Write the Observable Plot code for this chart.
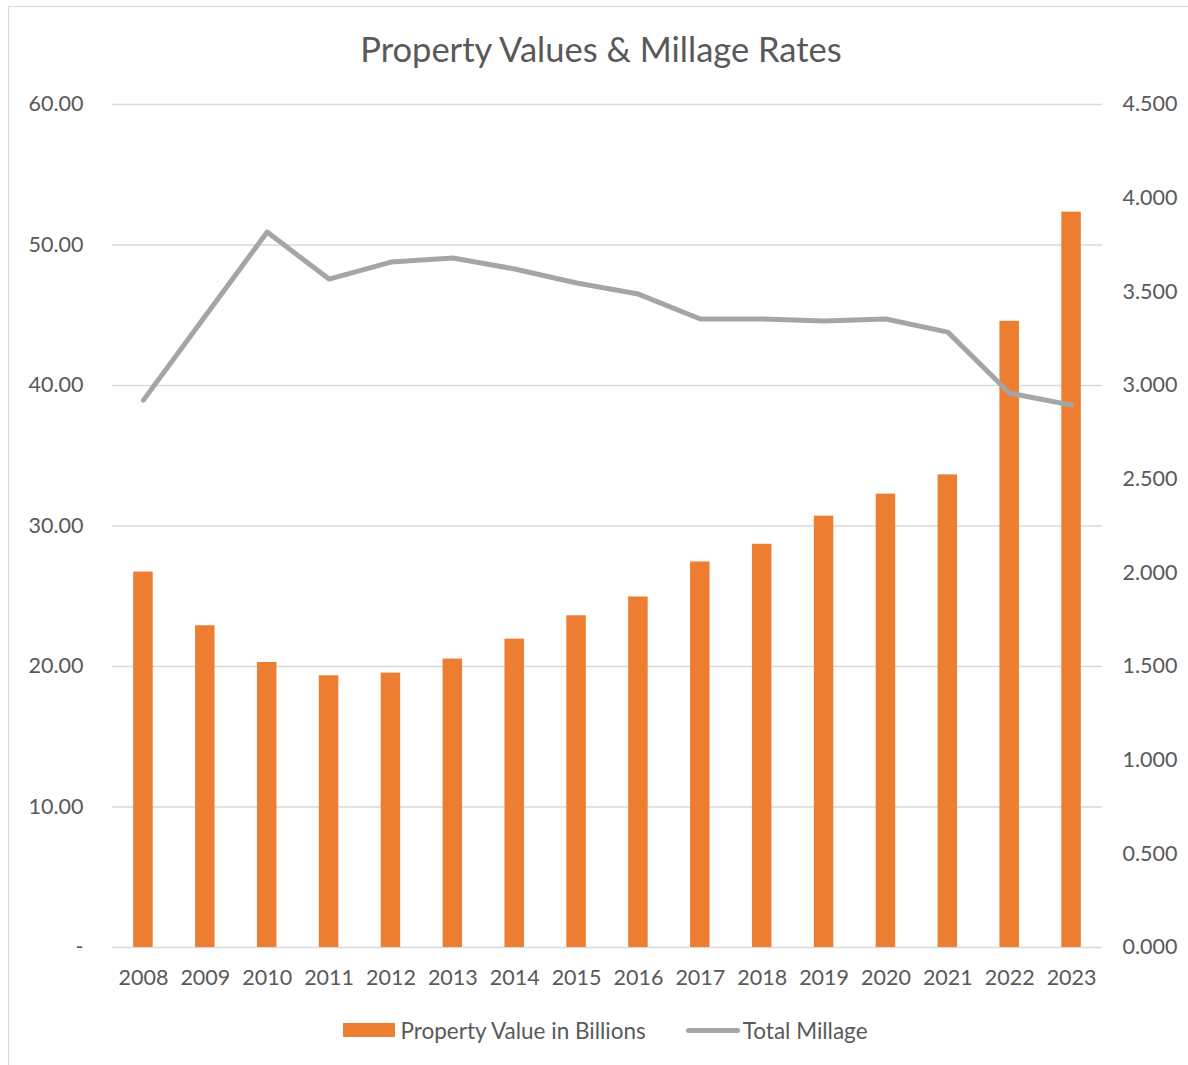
<!DOCTYPE html>
<html>
<head>
<meta charset="utf-8">
<script src="https://cdn.jsdelivr.net/npm/d3@7"></script>
<script src="https://cdn.jsdelivr.net/npm/@observablehq/plot@0.6"></script>
<style>
  body { margin: 0; background: #fff; font-family: Lato, "Open Sans", sans-serif; color: #595959; }
  #frame { position: absolute; left: 8px; top: 6px; width: 1200px; height: 1080px; border: 1px solid #d9d9d9; box-sizing: border-box; z-index: 5; pointer-events: none; }
  #chart { position: absolute; left: 0; top: 0; width: 1188px; }
  #title { height: 80px; box-sizing: border-box; padding-top: 29px; padding-left: 14px; line-height: 40px; text-align: center; font-size: 34.5px; color: #595959; }
  #legend { display: flex; justify-content: center; align-items: center; height: 60px; padding-left: 23px; box-sizing: border-box; font-size: 22.5px; color: #595959; }
  .item { display: flex; align-items: center; }
  .sw-bar { width: 52px; height: 14px; background: #ed7d31; margin-right: 5px; }
  .sw-line { width: 54px; height: 5px; background: #a5a5a5; border-radius: 3px; margin-right: 3px; }
</style>
</head>
<body>
<div id="frame"></div>
<div id="chart">
  <div id="title">Property Values &amp; Millage Rates</div>
  <div id="plot"></div>
  <div id="legend">
    <div class="item"><div class="sw-bar"></div><span>Property Value in Billions</span></div>
    <div class="item" style="margin-left:40px"><div class="sw-line"></div><span>Total Millage</span></div>
  </div>
</div>
<script>
const years = ["2008","2009","2010","2011","2012","2013","2014","2015","2016","2017","2018","2019","2020","2021","2022","2023"];
const propertyValue = [26.72, 22.90, 20.29, 19.34, 19.53, 20.53, 21.95, 23.61, 24.95, 27.44, 28.70, 30.70, 32.27, 33.64, 44.57, 52.34];
const totalMillage = [2.922, 3.371, 3.819, 3.568, 3.659, 3.681, 3.622, 3.547, 3.488, 3.355, 3.355, 3.344, 3.355, 3.285, 2.959, 2.895];
const leftTicks = [0, 10, 20, 30, 40, 50, 60];
const rightTicks = [0, 0.5, 1, 1.5, 2, 2.5, 3, 3.5, 4, 4.5];

const k = 60 / 4.5;
const data = years.map((y, i) => ({year: y, value: propertyValue[i], millage: totalMillage[i]}));

const chart = Plot.plot({
  width: 1188,
  height: 920,
  marginLeft: 112,
  marginRight: 86,
  marginTop: 24,
  marginBottom: 53,
  style: {fontFamily: "Lato, 'Open Sans', sans-serif", fontSize: "21.5px", color: "#595959", background: "transparent", overflow: "visible"},
  x: {domain: years, paddingInner: 0.685, paddingOuter: 0.3425, round: false, label: null, axis: null},
  y: {domain: [0, 60], label: null, axis: null},
  marks: [
    Plot.ruleY(leftTicks, {stroke: "#d9d9d9", strokeWidth: 1.5}),
    Plot.barY(data, {x: "year", y: "value", fill: "#ed7d31"}),
    Plot.line(data, {x: "year", y: d => d.millage * k, stroke: "#a5a5a5", strokeWidth: 5, strokeLinecap: "round", strokeLinejoin: "round"}),
    Plot.axisX({tickSize: 0, tickPadding: 22, fontSize: 21.5, label: null}),
    Plot.axisY(leftTicks, {anchor: "left", tickSize: 0, tickPadding: 29, fontSize: 21.5, label: null, tickFormat: d => d === 0 ? "-" : d.toFixed(2)}),
    Plot.axisY(rightTicks.map(v => v * k), {anchor: "right", tickSize: 0, tickPadding: 20, fontSize: 21.5, label: null, tickFormat: d => (d / k).toFixed(3)})
  ]
});
document.getElementById("plot").appendChild(chart);
</script>
</body>
</html>
